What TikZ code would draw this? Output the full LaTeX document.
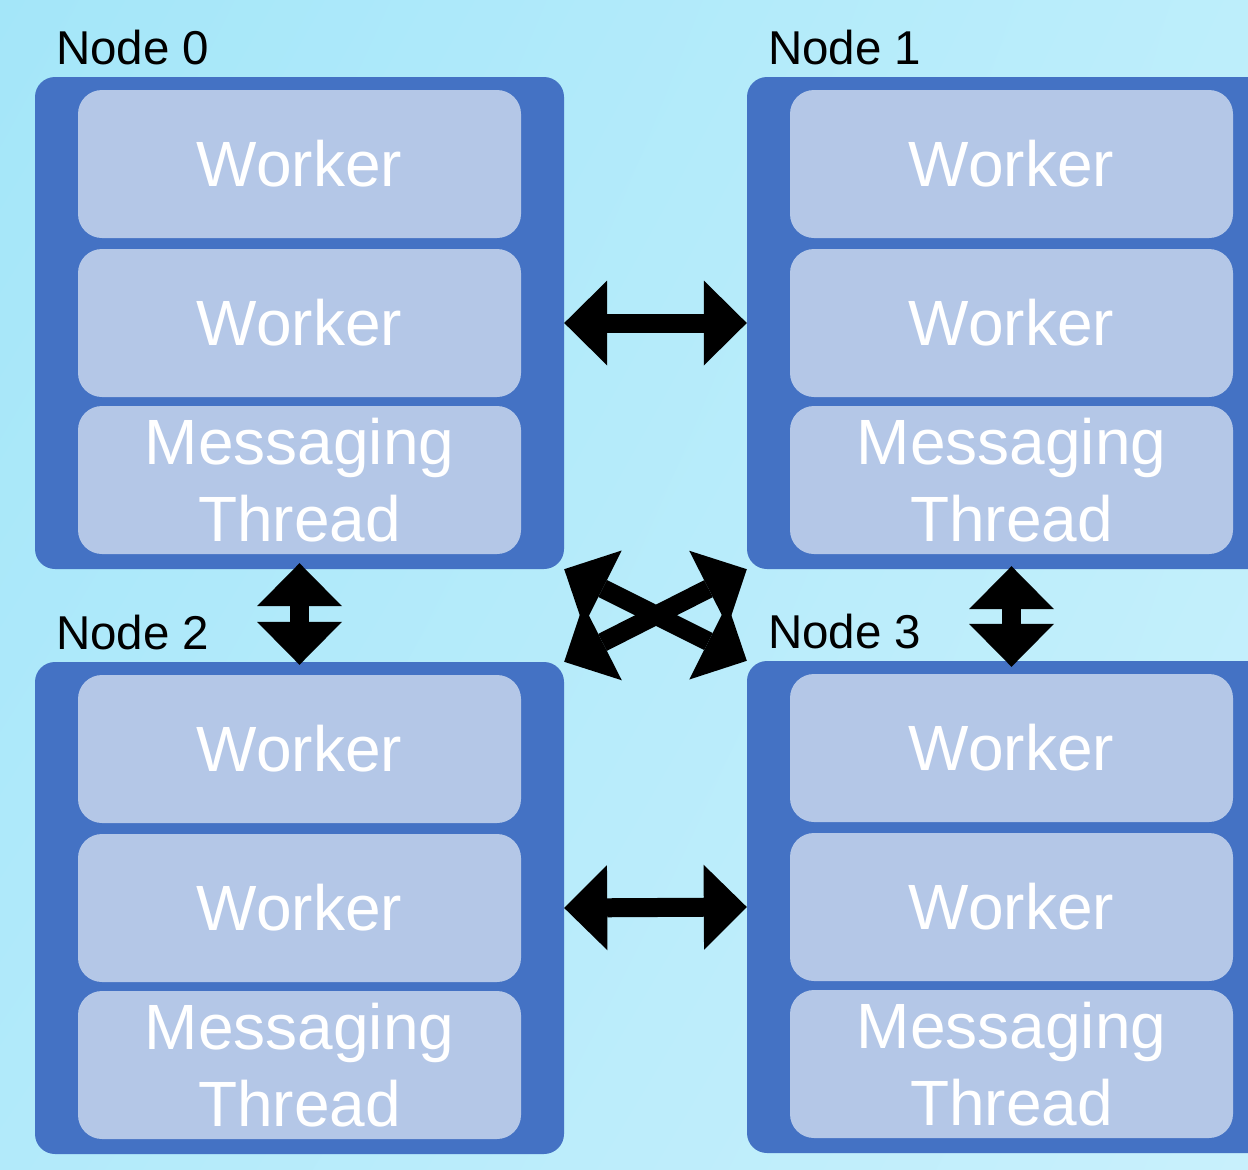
\documentclass[tikz,border=0pt]{standalone}
\usepackage{fontspec}
\setmainfont{Liberation Sans}
\usetikzlibrary{arrows.meta,positioning,shadings}
\definecolor{outerblue}{HTML}{4472C4}
\definecolor{innerblue}{HTML}{B4C7E7}
\definecolor{bgUL}{HTML}{A4E6F9}
\definecolor{bgUR}{HTML}{BDEEFB}
\definecolor{bgLL}{HTML}{B2EAFA}
\definecolor{bgLR}{HTML}{C8F0FC}
\tikzset{
  outerbox/.style={fill=outerblue, draw=none, rounded corners=20pt, minimum width=529pt, minimum height=492pt, inner sep=0pt},
  innerbox/.style={fill=innerblue, draw=none, rounded corners=24pt, minimum width=443pt, minimum height=148pt, inner sep=0pt,
    text=white, align=center, font=\fontsize{64}{77}\selectfont},
  lbl/.style={font=\fontsize{47.5}{56}\selectfont, text=black, inner sep=0pt, anchor=base west},
  dbl/.style={draw=black, line width=19pt,
    {Triangle[length=43pt,width=85pt,line width=0pt]}-{Triangle[length=43pt,width=85pt,line width=0pt]}},
}
\begin{document}
\begin{tikzpicture}[x=1pt,y=-1pt]
\useasboundingbox (0,0) rectangle (1248,1170);
\clip (0,0) rectangle (1248,1170);
\shade[upper left=bgUL, upper right=bgUR, lower left=bgLL, lower right=bgLR] (0,0) rectangle (1248,1170);

% outer boxes
\node[outerbox] (n0) at (299.5,323) {};
\node[outerbox] (n1) at (1011.5,323) {};
\node[outerbox] (n2) at (299.5,908) {};
\node[outerbox] (n3) at (1011.5,907) {};

% labels
\node[lbl] (l0) at ([shift={(21,-12)}]n0.north west) {Node 0};
\node[lbl] (l1) at ([shift={(21,-12)}]n1.north west) {Node 1};
\node[lbl] (l2) at ([shift={(21,-12)}]n2.north west) {Node 2};
\node[lbl] (l3) at ([shift={(21,-12)}]n3.north west) {Node 3};

% inner boxes
\foreach \n in {0,1,2,3}{
  \node[innerbox] (w\n a) at ([yshift=159]n\n.center) {Worker};
  \node[innerbox] (w\n b) at (n\n.center) {Worker};
  \node[innerbox] (m\n) at ([yshift=-157]n\n.center) {Messaging\\Thread};
}

% connectors
\draw[dbl] (n0.east) -- (n1.west);
\draw[dbl] (n2.east) -- (n3.west);
\draw[dbl, shorten <=-6pt, shorten >=-3pt] (n0.south) -- (n2.north);
\draw[dbl, shorten <=-3pt, shorten >=-6pt] (n1.south) -- (n3.north);
\draw[dbl] (n0.south east) -- (n3.north west);
\draw[dbl] (n1.south west) -- (n2.north east);
\end{tikzpicture}
\end{document}
